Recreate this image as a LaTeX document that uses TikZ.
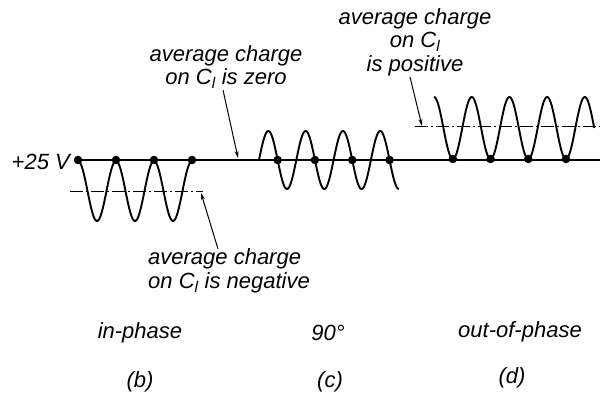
\documentclass[tikz,border=0pt]{standalone}
\usepackage{fontspec}
\setmainfont{Liberation Sans}
\usetikzlibrary{arrows.meta}
\tikzset{
  lbl/.style={inner sep=0pt, font=\fontsize{22}{23.5}\selectfont\itshape},
  wave/.style={line width=1.9pt, line join=round},
  base/.style={line width=1.2pt},
  avg/.style={line width=1pt, dash pattern=on 13pt off 3pt on 2pt off 3pt},
  pointer/.style={line width=1pt, -{Stealth[length=7pt,width=4pt]}},
  dotm/.style={circle, fill=black, inner sep=0pt, minimum size=8.5pt}
}
\newcommand{\Cl}{C\textsubscript{\textit{l}}}
\begin{document}
\begin{tikzpicture}[x=1pt,y=-1pt]
\useasboundingbox (0,0) rectangle (613,393);
% base line at +25 V
\coordinate (bl) at (78,160);
\coordinate (br) at (600,160);
\draw[base] (bl) -- (br);
\node[lbl, anchor=east] (v25) at (70,162) {+25 V};
% (b) in-phase
\draw[avg] (70,191) coordinate (bavgl) -- (203,191) coordinate (bavgr);
\draw[wave] plot[variable=\t, domain=0:1080, samples=160, smooth] ({78+\t/360*38}, {191 - 30*cos(\t)});
\foreach \i/\xx in {1/78,2/116,3/154,4/192} \node[dotm] (bd\i) at (\xx,160) {};
% (c) 90 deg
\draw[wave] plot[variable=\t, domain=0:1350, samples=180, smooth] ({259+\t/360*37.3}, {160 - 29*sin(\t)});
\foreach \i/\xx in {1/277.65,2/314.95,3/352.25,4/389.55} \node[dotm] (cd\i) at (\xx,160) {};
% (d) out-of-phase
\draw[avg] (415,127) coordinate (davgl) -- (600,127) coordinate (davgr);
\draw[wave] plot[variable=\t, domain=0:1530, samples=200, smooth] ({434+\t/360*37.7}, {128 - 31*cos(\t)});
\foreach \i/\xx in {1/452.85,2/490.55,3/528.25,4/565.95} \node[dotm] (dd\i) at (\xx,159) {};
% labels
\node[lbl, align=center] (lzero) at (226,67) {average charge\\on \Cl{} is zero};
\node[lbl, align=center] (lpos) at (415,42) {average charge\\on \Cl\\is positive};
\node[lbl, align=left, anchor=west] (lneg) at (148,271) {average charge\\on \Cl{} is negative};
% pointers
\coordinate (zs) at (223,90);
\coordinate (ze) at (238,158);
\draw[pointer] (zs) -- (ze);
\coordinate (ps) at (410,77);
\coordinate (pe) at (422,126);
\draw[pointer] (ps) -- (pe);
\coordinate (ns) at (218,249);
\coordinate (ne) at (201,193);
\draw[pointer] (ns) -- (ne);
% captions
\node[lbl] (cb) at (140,333) {in-phase};
\node[lbl] (cc) at (328,333) {90°};
\node[lbl] (cd) at (520,332) {out-of-phase};
\node[lbl] (tb) at (140,382) {(b)};
\node[lbl] (tc) at (330,382) {(c)};
\node[lbl] (td) at (512,378) {(d)};
\end{tikzpicture}
\end{document}
